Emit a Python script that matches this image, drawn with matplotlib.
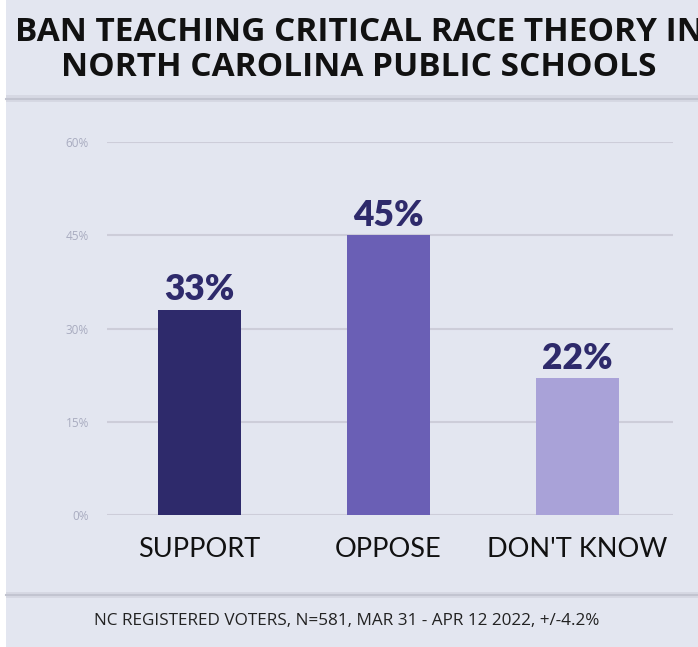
import matplotlib.pyplot as plt
from matplotlib.patches import Rectangle
from matplotlib.lines import Line2D

# poll results
categories = ['SUPPORT', 'OPPOSE', "DON'T KNOW"]
shares = [33, 45, 22]
bar_colors = ['#2e2a6b', '#6a5fb5', '#a9a2d8']
ticks = [0, 15, 30, 45, 60]

title = 'BAN TEACHING CRITICAL RACE THEORY IN\nNORTH CAROLINA PUBLIC SCHOOLS'
footer = 'NC REGISTERED VOTERS, N=581, MAR 31 - APR 12 2022, +/-4.2%'

bg = '#e3e6f0'
W, H = 698, 647

fig = plt.figure(figsize=(W / 100, H / 100), dpi=100)
fig.patch.set_facecolor(bg)

# thin white strip on the left edge
fig.add_artist(Rectangle((0, 0), 6 / W, 1, transform=fig.transFigure,
                         facecolor='white', edgecolor='none'))

# separator bands under the title and above the footer
for y in (98.5, 595):
    fig.add_artist(Rectangle((6 / W, 1 - (y + 3) / H), 1, 6 / H,
                             transform=fig.transFigure,
                             facecolor='#d6d8e3', edgecolor='none'))
    fig.add_artist(Line2D([6 / W, 1], [1 - y / H, 1 - y / H],
                          transform=fig.transFigure, color='#c2c4d0', lw=1.5))

fig.text(359 / W, 1 - 50 / H, title, ha='center', va='center',
         fontsize=24, fontweight='bold', family='Open Sans',
         color='#111111', linespacing=1.05)

fig.text(347 / W, 1 - 621 / H, footer, ha='center', va='center',
         fontsize=12.3, family='Open Sans', color='#222222')

# plotting area: 0% at y=515, 60% at y=142, gridlines from x=107 to x=673
ax = fig.add_axes([107 / W, 1 - 515 / H, (673 - 107) / W, (515 - 142) / H])
ax.set_facecolor(bg)
x = range(len(categories))
ax.bar(x, shares, width=0.435, color=bar_colors, zorder=3)
ax.set_xlim(-0.49, 2.505)
ax.set_ylim(0, 60)
ax.set_yticks(ticks)
ax.set_yticklabels([f'{t}%' for t in ticks], fontsize=8.5, color='#a9acc0',
                   family='Open Sans')
ax.tick_params(axis='y', length=0, pad=13)
ax.tick_params(axis='x', length=0, pad=16)
ax.set_xticks(list(x))
ax.set_xticklabels(categories, fontsize=19.5, family='Lato', color='#111111')
ax.grid(axis='y', color='#cdcdd9', lw=1.5, zorder=0)
for s in ax.spines.values():
    s.set_visible(False)

for i, v in enumerate(shares):
    ax.text(i, v + 0.6, f'{v}%', ha='center', va='bottom', fontsize=25.5,
            fontweight='heavy', family='Lato', color='#2e2a6b', zorder=4)

fig.savefig('out.png', dpi=100, facecolor=bg)
